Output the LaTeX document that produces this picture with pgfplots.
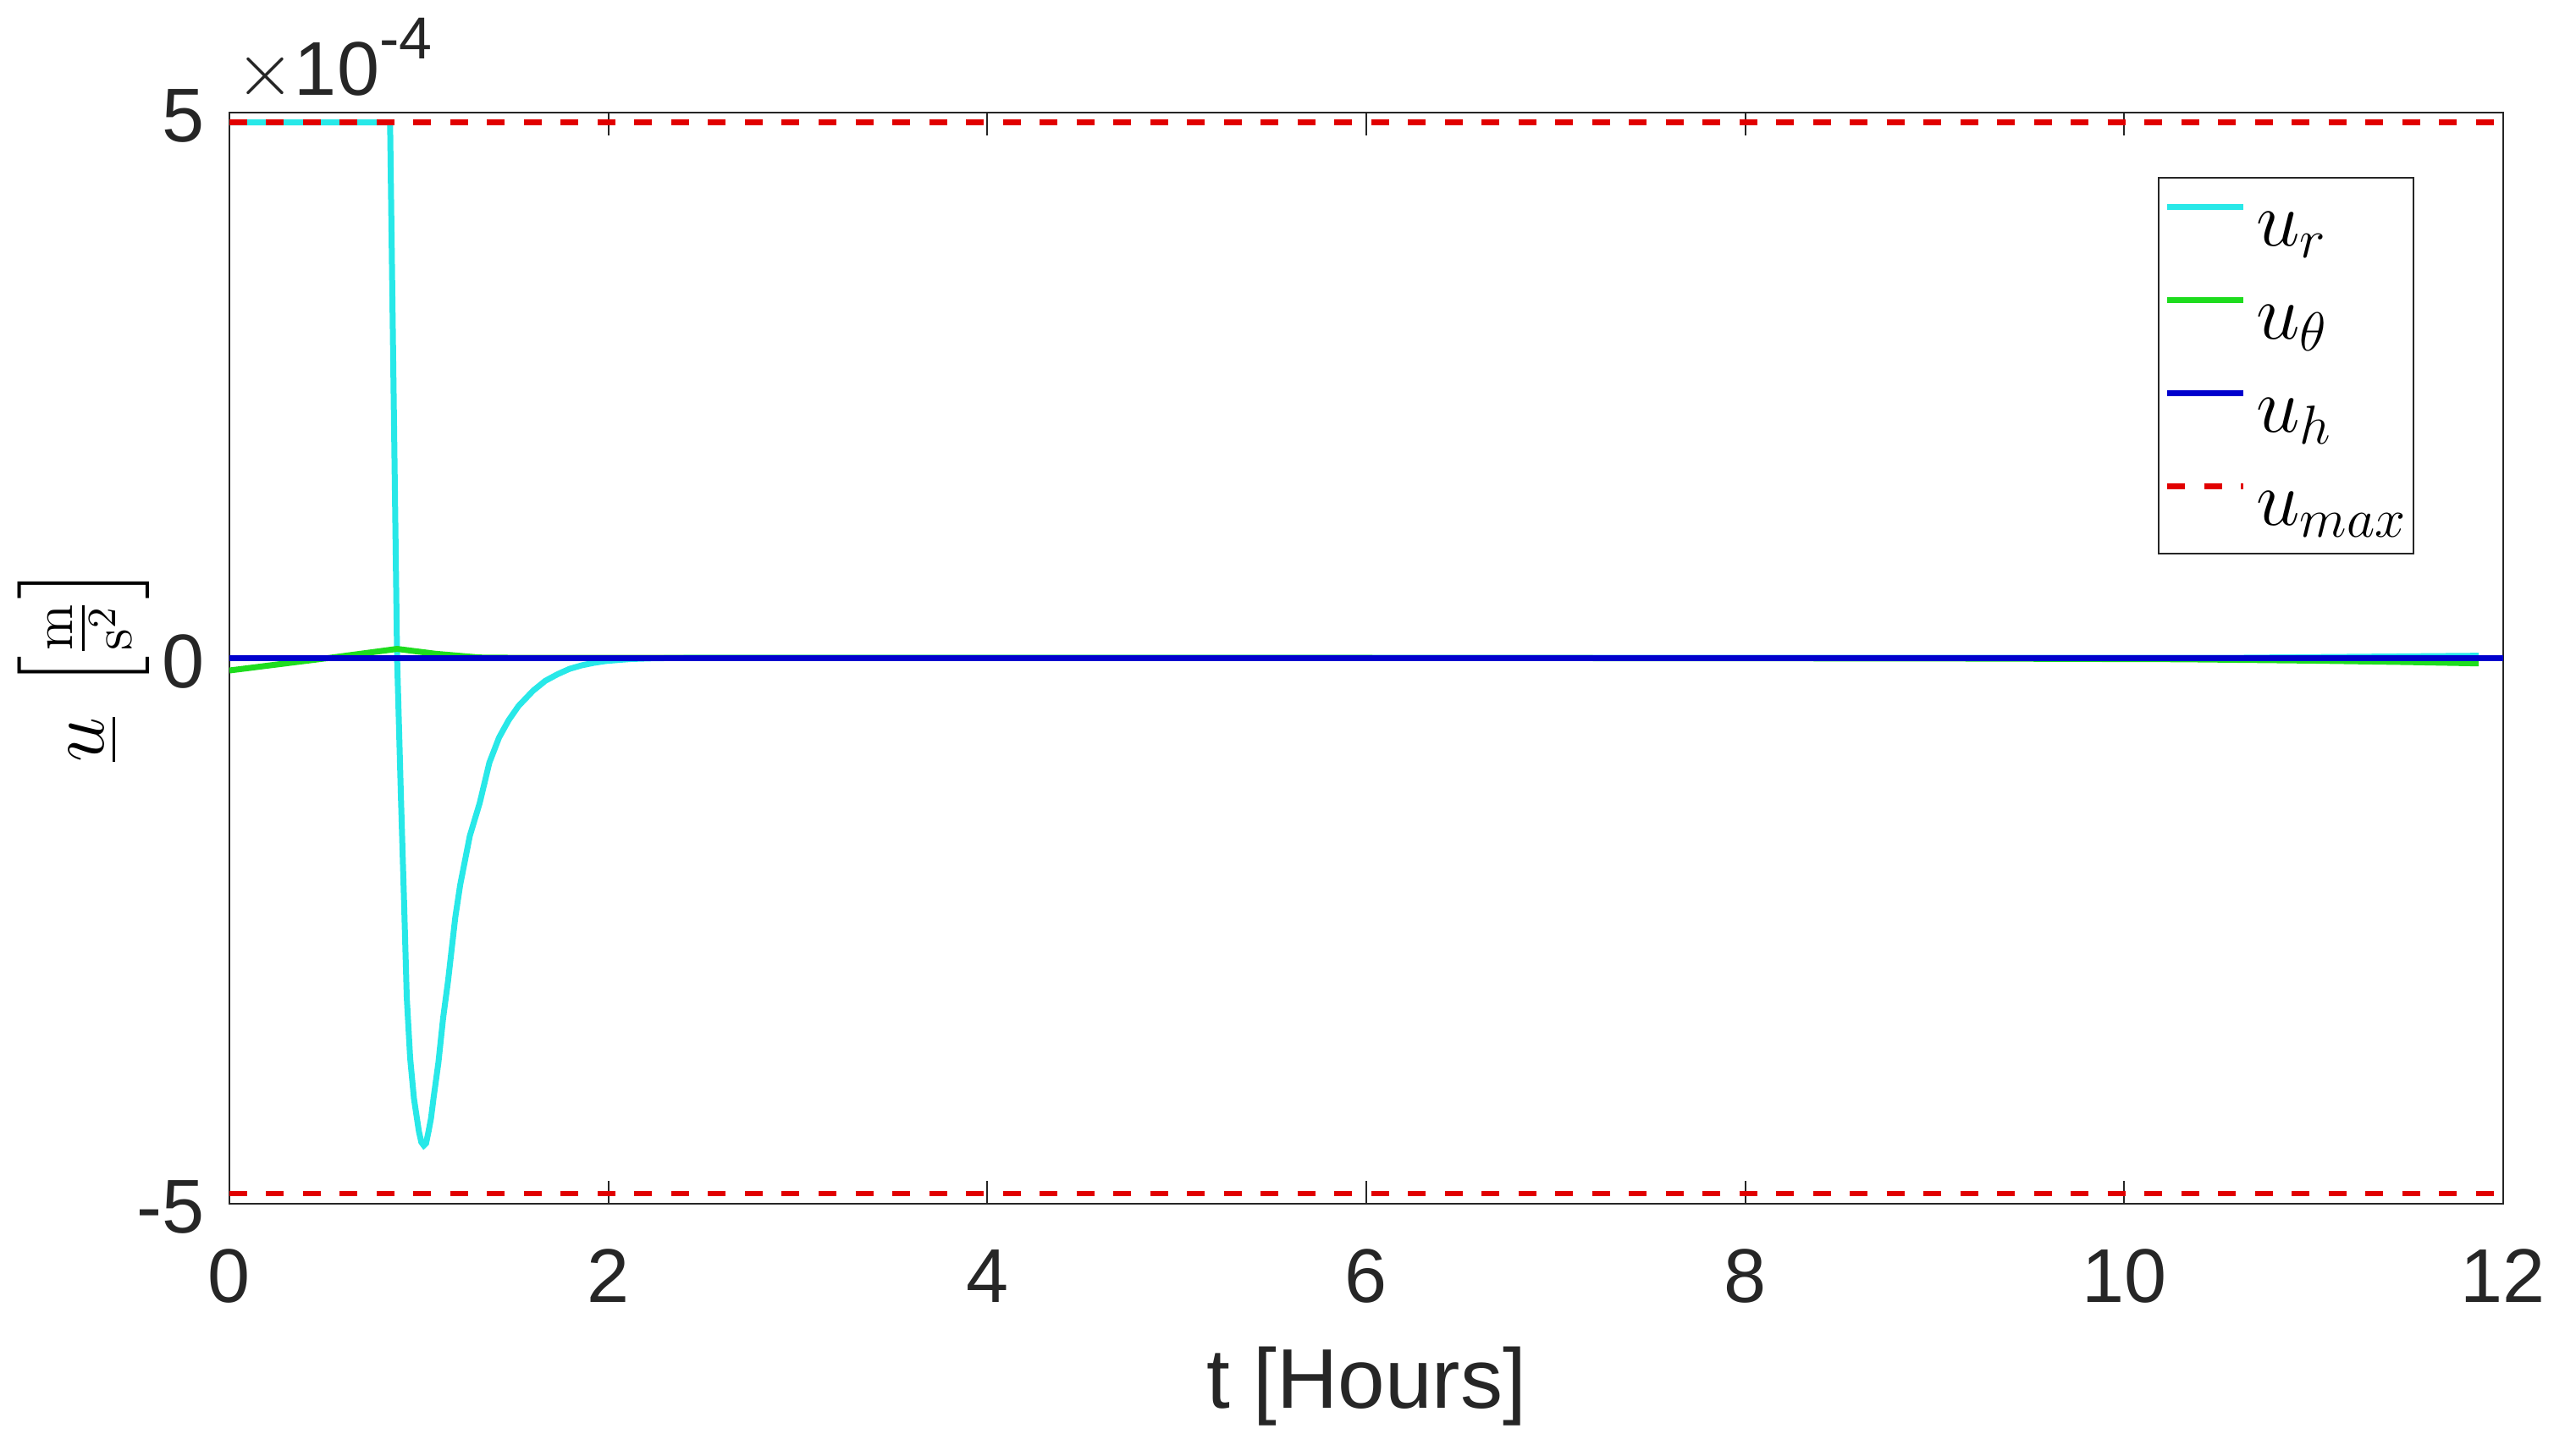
\RequirePackage{fix-cm}
\documentclass[border=0pt]{standalone}
\usepackage{amsmath}
\usepackage[no-math]{fontspec}
\setmainfont{Liberation Sans}
\usepackage{pgfplots}
\pgfplotsset{compat=1.18}
\definecolor{ucyan}{RGB}{40,232,232}
\definecolor{ugreen}{RGB}{30,220,30}
\definecolor{ublue}{RGB}{0,0,205}
\definecolor{ured}{RGB}{225,0,0}
\definecolor{axgray}{RGB}{38,38,38}
\begin{document}
\begin{tikzpicture}
\begin{axis}[
  at={(0,0)}, anchor=south west,
  scale only axis, width=537.2pt, height=257.7pt,
  xmin=0, xmax=12, ymin=-5, ymax=5,
  xtick={0,2,4,6,8,10,12}, xticklabels={0,2,4,6,8,10,12},
  ytick={-5,0,5}, yticklabels={-5,0,5},
  tick align=inside, tick pos=both, major tick length=5.4pt,
  axis line style={line width=0.4pt, draw=axgray},
  every tick/.style={line width=0.4pt, axgray},
  xticklabel style={anchor=base, inner sep=0pt, yshift=-23.3pt, font=\fontsize{18}{20}\selectfont, text=axgray},
  yticklabel style={anchor=east, inner sep=0pt, xshift=-5.6pt, yshift=-0.8pt, font=\fontsize{18}{20}\selectfont, text=axgray},
  legend style={at={(rel axis cs:1,1)}, anchor=north east, xshift=-21pt, yshift=-15.3pt,
    draw=axgray, line width=0.4pt, inner xsep=1.4pt, inner ysep=4pt,
    row sep=7.2pt, column sep=2.3pt, font=\fontsize{18.5}{20}\selectfont,
    nodes={inner sep=0pt, text height=12pt, text depth=2.8pt}},
  legend cell align=left,
  legend image code/.code={\draw[#1] (0pt,4.6pt) -- (18pt,4.6pt);},
  legend entries={$u_r$,$u_\theta$,$u_h$,$u_{max}$},
]
% u_r
\addplot[ucyan, line width=1.4pt] coordinates {
(0,4.91) (0.848,4.91) (0.885,0) (0.905,-1.26) (0.921,-2.19) (0.936,-3.11)
(0.954,-3.67) (0.974,-4.04) (1.0,-4.34) (1.013,-4.44) (1.026,-4.47)
(1.038,-4.45) (1.051,-4.34) (1.064,-4.22) (1.077,-4.04) (1.103,-3.71)
(1.128,-3.30) (1.154,-2.96) (1.192,-2.38) (1.218,-2.08) (1.269,-1.63)
(1.321,-1.33) (1.372,-0.96) (1.423,-0.73) (1.474,-0.57) (1.526,-0.44)
(1.603,-0.30) (1.667,-0.21) (1.731,-0.15) (1.795,-0.10) (1.859,-0.068)
(1.923,-0.045) (1.987,-0.028) (2.115,-0.010) (2.24,-0.003) (2.4,0) (10.5,0) (11.2,0.01) (11.87,0.02)
};
% u_theta
\addplot[ugreen, line width=1.4pt] coordinates {
(0,-0.115) (0.526,0) (0.885,0.083) (1.09,0.038) (1.32,0.004) (1.6,0)
(6,0) (9,-0.005) (10.3,-0.012) (11,-0.025) (11.5,-0.038) (11.87,-0.05)
};
% u_h
\addplot[ublue, line width=1.4pt] coordinates {(0,0) (12,0)};
% u_max
\addplot[ured, line width=1.3pt, dash pattern=on 4.2pt off 4.5pt] coordinates {(0,4.91) (12,4.91)};
\addplot[ured, line width=1.3pt, dash pattern=on 4.2pt off 4.5pt, forget plot] coordinates {(0,-4.91) (12,-4.91)};
\end{axis}
\node[anchor=base west, inner sep=0pt, font=\fontsize{18}{20}\selectfont, text=axgray] at (1.2pt,261.8pt) {$\times$10\raisebox{8.6pt}{\fontsize{14}{16}\selectfont -4}};
\node[anchor=base, inner sep=0pt, font=\fontsize{20}{24}\selectfont, text=axgray] at (268.6pt,-48.3pt) {t [Hours]};
\node[rotate=90, anchor=base, inner sep=0pt, font=\fontsize{19}{22}\selectfont] at (-29.7pt,127.5pt) {$\underline{u}\,\left[\rule[-8.25pt]{0pt}{26pt}\frac{\mathrm{m}}{\mathrm{s}^2}\right]$};
\pgfresetboundingbox
\path[use as bounding box] (-54.2pt,-59.5pt) rectangle (551.8pt,284.3pt);
\end{tikzpicture}
\end{document}
